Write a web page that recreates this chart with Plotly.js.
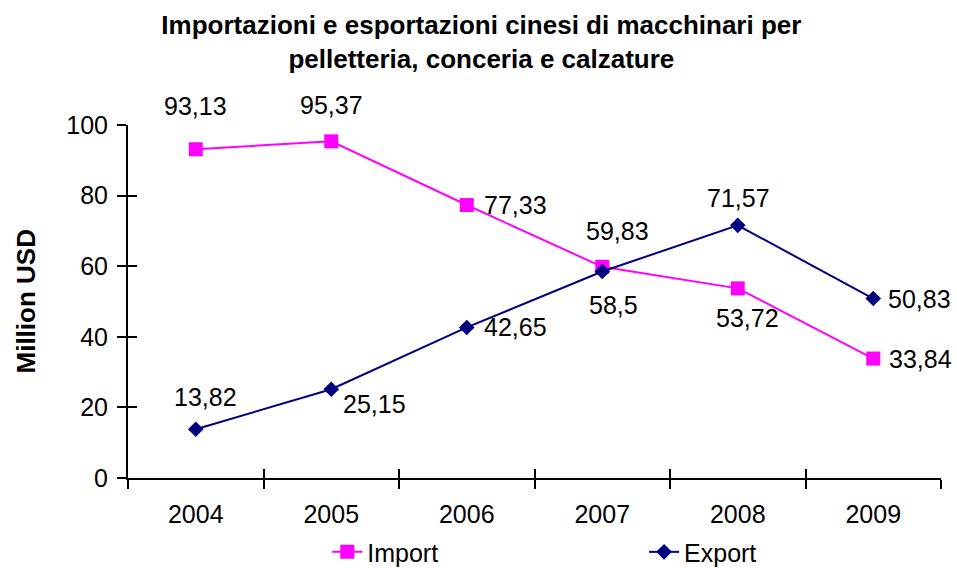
<!DOCTYPE html>
<html>
<head>
<meta charset="utf-8">
<script src="https://cdn.plot.ly/plotly-3.0.1.min.js"></script>
<style>html,body{margin:0;padding:0;background:#fff;}#chart{width:957px;height:568px;}</style>
</head>
<body>
<div id="chart"></div>
<script>
var years = ['2004', '2005', '2006', '2007', '2008', '2009'];
var importValues = [93.13, 95.37, 77.33, 59.83, 53.72, 33.84];
var exportValues = [13.82, 25.15, 42.65, 58.5, 71.57, 50.83];
var yTicks = [0, 20, 40, 60, 80, 100];

// label placement (pixel offsets from each point)
var importLabelShift = [[0, 43], [0, 36], [49, 0], [15, 36], [10, -30], [47, 0]];
var exportLabelShift = [[10, 32], [43, -15], [49, 0], [11, -33], [1, 27], [46, 0]];

var MAG = '#FF00FF', NAVY = '#000080';
var FONT = 'Liberation Sans, Arial, sans-serif';

function fmt(v) { return String(v).replace('.', ','); }

var traces = [
  {
    x: years, y: importValues, name: 'Import', type: 'scatter', mode: 'lines+markers',
    line: {color: MAG, width: 2}, marker: {symbol: 'square', size: 14, color: MAG},
    hoverinfo: 'skip', legend: 'legend'
  },
  {
    x: years, y: exportValues, name: 'Export', type: 'scatter', mode: 'lines+markers',
    line: {color: NAVY, width: 2}, marker: {symbol: 'diamond', size: 12, color: NAVY},
    hoverinfo: 'skip', legend: 'legend2'
  },
  // invisible helpers so the overlay axes (inner half of the crossing ticks) are drawn
  {
    x: years, y: importValues, xaxis: 'x2', yaxis: 'y', type: 'scatter', mode: 'markers',
    marker: {opacity: 0}, showlegend: false, hoverinfo: 'skip'
  },
  {
    x: years, y: exportValues, xaxis: 'x', yaxis: 'y2', type: 'scatter', mode: 'markers',
    marker: {opacity: 0}, showlegend: false, hoverinfo: 'skip'
  }
];

var annotations = [];
function addLabels(vals, shifts) {
  for (var i = 0; i < vals.length; i++) {
    annotations.push({
      x: i, y: vals[i], xref: 'x', yref: 'y', text: fmt(vals[i]),
      showarrow: false, xshift: shifts[i][0], yshift: shifts[i][1],
      xanchor: 'center', yanchor: 'middle',
      font: {family: FONT, size: 25, color: '#000'}
    });
  }
}
addLabels(importValues, importLabelShift);
addLabels(exportValues, exportLabelShift);

// y-axis title
annotations.push({
  xref: 'paper', yref: 'paper', x: 0, y: 0.5, xshift: -103,
  xanchor: 'center', yanchor: 'middle', textangle: -90, showarrow: false,
  text: '<b>Million USD</b>', font: {family: FONT, size: 26, color: '#000'}
});

var legendFont = {family: FONT, size: 25, color: '#000'};

var layout = {
  width: 957, height: 568,
  paper_bgcolor: '#fff', plot_bgcolor: '#fff',
  margin: {l: 128, r: 16, t: 125, b: 90, autoexpand: false},
  title: {
    text: '<b>Importazioni e esportazioni cinesi di macchinari per<br>pelletteria, conceria e calzature</b>',
    font: {family: FONT, size: 26, color: '#000'},
    x: 0.503, xanchor: 'center', xref: 'container',
    y: 0.94, yanchor: 'top', yref: 'container'
  },
  showlegend: true,
  legend: {
    x: 0.342, xanchor: 'left', xref: 'container',
    y: 0.028, yanchor: 'middle', yref: 'container',
    font: legendFont, bgcolor: 'rgba(0,0,0,0)'
  },
  legend2: {
    x: 0.673, xanchor: 'left', xref: 'container',
    y: 0.028, yanchor: 'middle', yref: 'container',
    font: legendFont, bgcolor: 'rgba(0,0,0,0)'
  },
  xaxis: {
    type: 'category', categoryorder: 'array', categoryarray: years,
    range: [-0.5, 5.5], fixedrange: true,
    showline: true, linecolor: '#000', linewidth: 2, mirror: false,
    showgrid: false, zeroline: false,
    ticks: 'outside', tickson: 'boundaries', ticklen: 9, tickwidth: 2, tickcolor: '#000',
    tickfont: {family: FONT, size: 25, color: '#000'}, ticklabelstandoff: 13
  },
  yaxis: {
    range: [0, 100], tickvals: yTicks, ticktext: yTicks.map(String), fixedrange: true,
    showline: true, linecolor: '#000', linewidth: 2,
    showgrid: false, zeroline: false,
    ticks: 'outside', ticklen: 9, tickwidth: 2, tickcolor: '#000',
    tickfont: {family: FONT, size: 25, color: '#000'}, ticklabelstandoff: 4
  },
  xaxis2: {
    type: 'category', categoryorder: 'array', categoryarray: years,
    range: [-0.5, 5.5], overlaying: 'x', anchor: 'y', side: 'bottom', fixedrange: true,
    showline: false, showgrid: false, zeroline: false, showticklabels: false,
    ticks: 'inside', tickson: 'boundaries', ticklen: 9, tickwidth: 2, tickcolor: '#000'
  },
  yaxis2: {
    range: [0, 100], tickvals: yTicks, overlaying: 'y', anchor: 'x', side: 'left', fixedrange: true,
    showline: false, showgrid: false, zeroline: false, showticklabels: false,
    ticks: 'inside', ticklen: 9, tickwidth: 2, tickcolor: '#000'
  },
  annotations: annotations
};

Plotly.newPlot('chart', traces, layout, {displayModeBar: false, staticPlot: true});
</script>
</body>
</html>
